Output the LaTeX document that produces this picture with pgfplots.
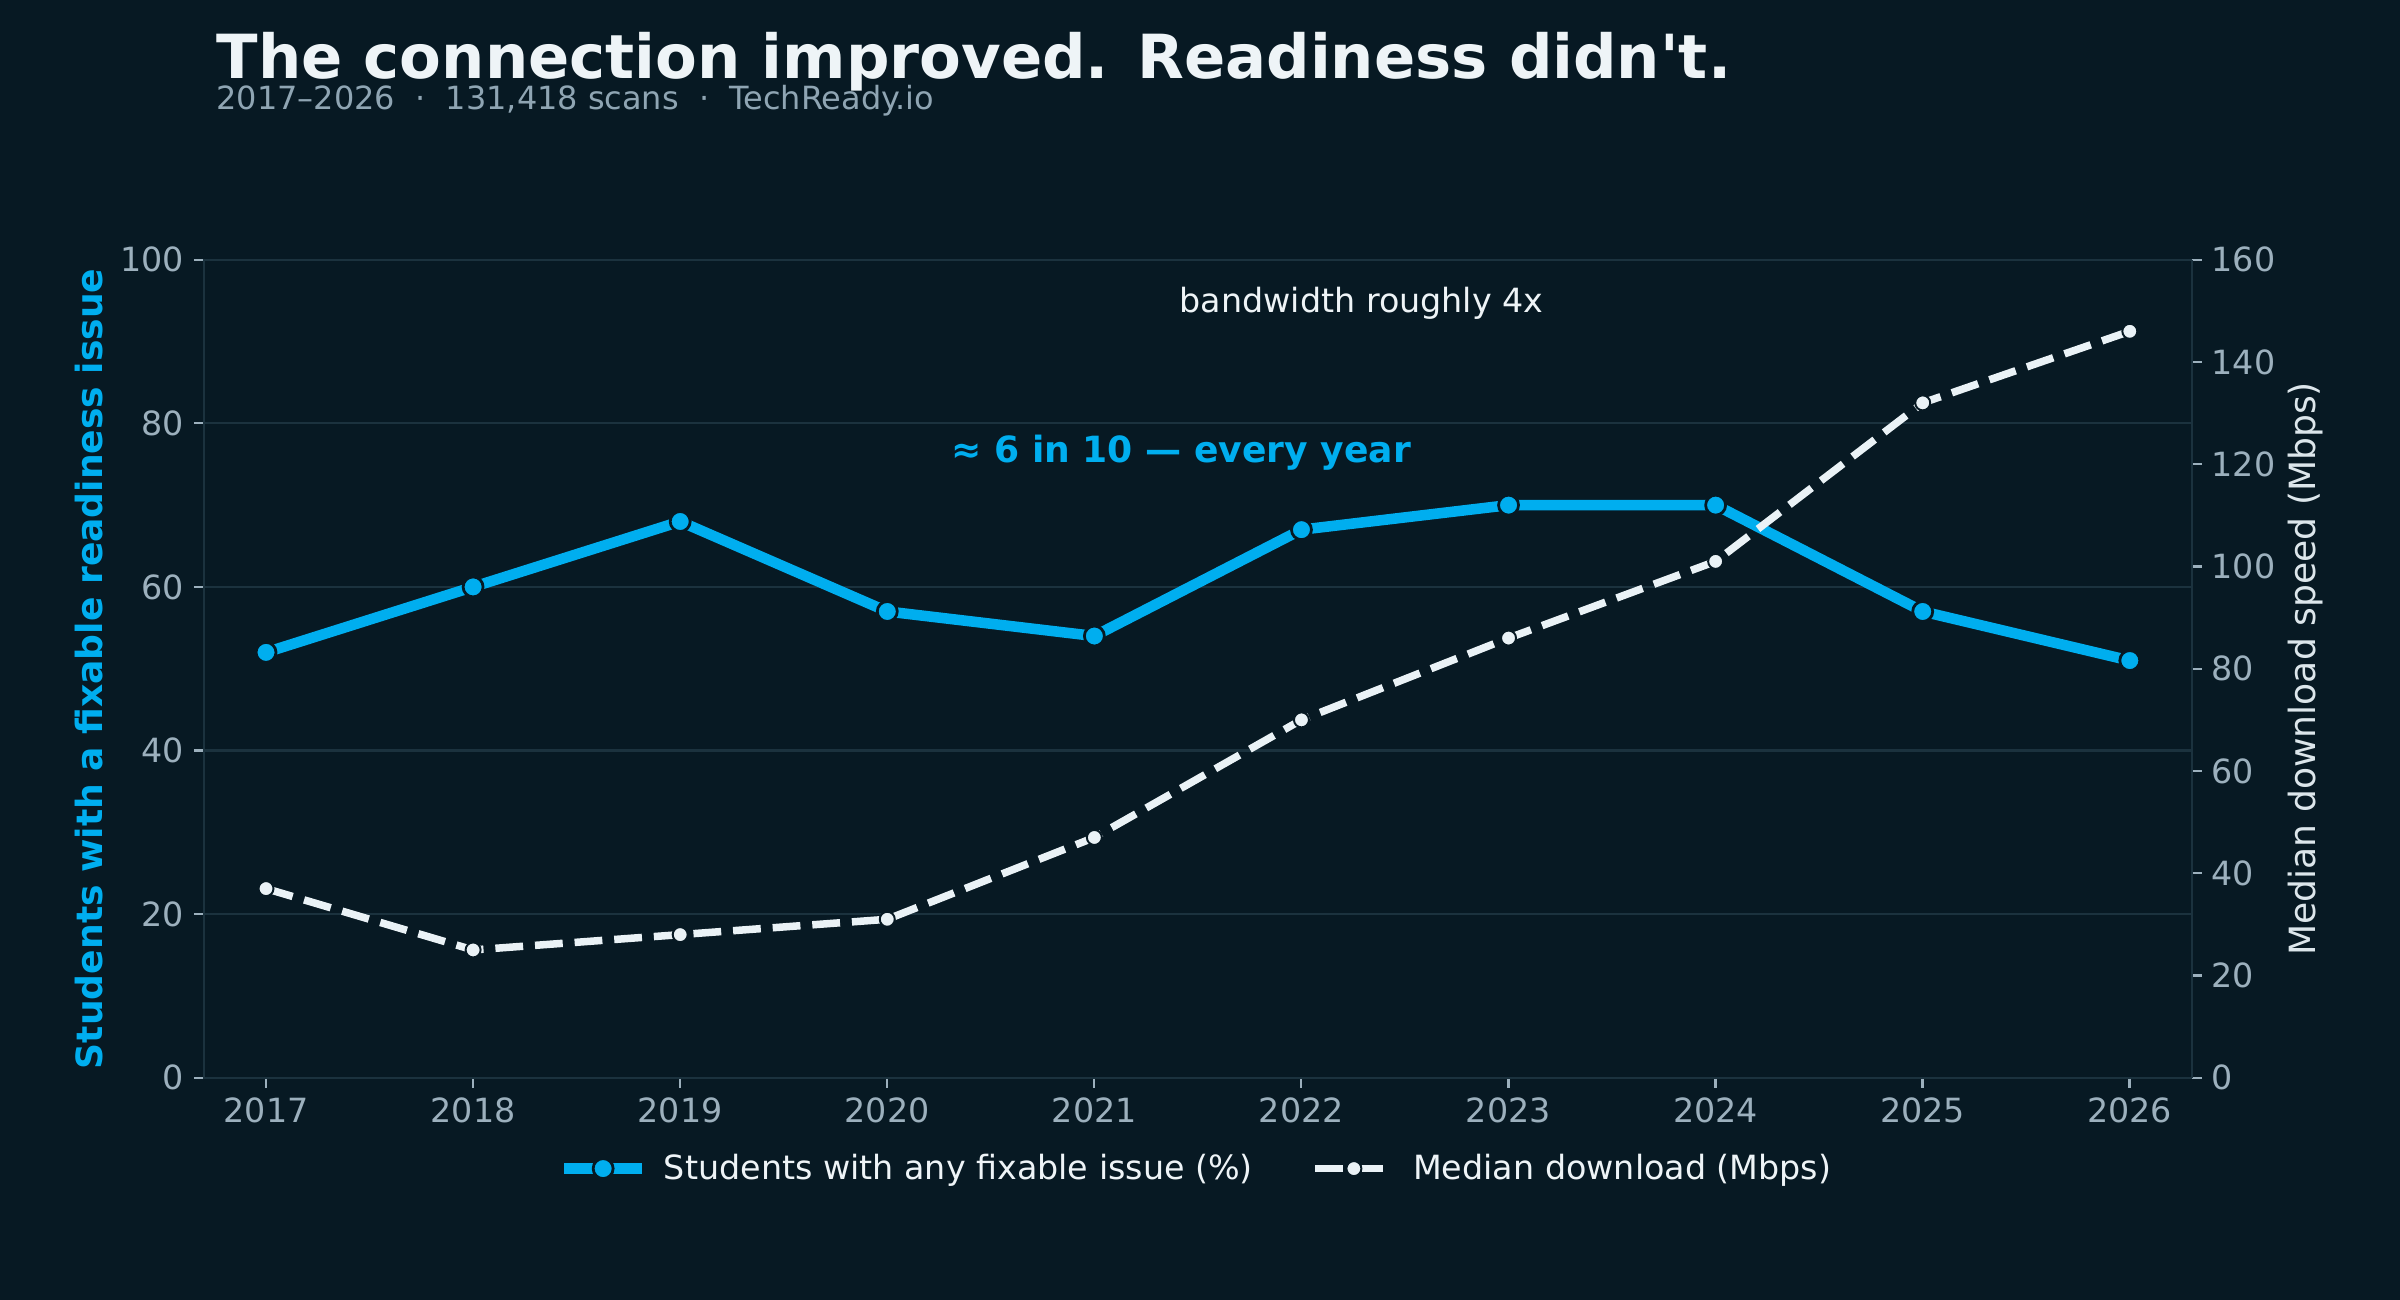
\documentclass[border=0pt]{standalone}
\usepackage{fontspec}
\setmainfont{DejaVu Sans}
\usepackage{pgfplots}
\usepackage{pgfplotstable}
\pgfplotsset{compat=1.18}

\definecolor{bg}{HTML}{071923}
\definecolor{gridc}{HTML}{1B323E}
\definecolor{tickc}{HTML}{9CB0BD}
\definecolor{cyanline}{HTML}{00AEEF}
\definecolor{paleline}{HTML}{EAF2F6}
\definecolor{titlec}{HTML}{EEF4F7}
\definecolor{subc}{HTML}{8FA5B3}
\definecolor{rlabc}{HTML}{DCE6EB}

% year, share of students with a fixable issue (%), median download (Mbps)
\pgfplotstableread{
year pct mbps
2017 52 37
2018 60 25
2019 68 28
2020 57 31
2021 54 47
2022 67 70
2023 70 86
2024 70 101
2025 57 132
2026 51 146
}\scans

\pgfplotsset{
  darkaxis/.style={
    width=715.7pt, height=294.5pt, scale only axis,
    at={(0pt,0pt)}, anchor=south west,
    xmin=2016.7, xmax=2026.3,
    axis line style={gridc, line width=0.8pt},
    tick style={tickc, line width=0.8pt},
    tick align=outside, major tick length=3.6pt,
    ticklabel style={font=\fontsize{12}{14}\selectfont, text=tickc},
    /pgf/number format/assume math mode=true,
    clip=false,
  },
  cyanstyle/.style={cyanline, line width=3.8pt, line join=round,
    mark=*, mark size=3.6pt,
    mark options={solid, fill=cyanline, draw=bg, line width=1pt}},
  palestyle/.style={paleline, line width=2.7pt, dash pattern=on 10pt off 4.3pt,
    mark=*, mark size=2.7pt,
    mark options={solid, fill=paleline, draw=bg, line width=0.7pt}},
}

\begin{document}
\begin{tikzpicture}
\fill[bg] (-73.4pt,-80pt) rectangle (790.6pt,388pt);
\path[use as bounding box] (-73.4pt,-80pt) rectangle (790.6pt,388pt);

\node[anchor=base west, inner sep=0pt, font=\fontsize{21.9}{26}\selectfont\bfseries, text=titlec]
  at (4.4pt,359.6pt) {The connection improved. Readiness didn\textquotesingle t.};
\node[anchor=base west, inner sep=0pt, font=\fontsize{11.5}{13}\selectfont, text=subc]
  at (4.4pt,348.4pt) {2017–2026\ \ ·\ \ 131,418 scans\ \ ·\ \ TechReady.io};

% left axis: share of students
\begin{axis}[darkaxis,
  ymin=0, ymax=100, ytick={0,20,...,100},
  xtick={2017,...,2026},
  xticklabel style={/pgf/number format/1000 sep={}},
  xtick pos=bottom, ytick pos=left,
  ymajorgrids, grid style={gridc, line width=0.8pt},
  every axis y label/.style={at={(axis description cs:-0.0509,0.5)}, rotate=90, anchor=base},
  ylabel={Students with a fixable readiness issue},
  ylabel style={font=\fontsize{13}{15}\selectfont\bfseries, text=cyanline},
]
\addplot[cyanstyle] table[x=year, y=pct] {\scans};
\node[font=\fontsize{13}{15}\selectfont\bfseries, text=cyanline] at (axis cs:2021.42,76.4)
  {≈ 6 in 10 — every year};
\node[font=\fontsize{12}{14}\selectfont, text=titlec] at (axis cs:2022.29,94.7)
  {bandwidth roughly 4x};
\end{axis}

% right axis: median download speed
\begin{axis}[darkaxis,
  ymin=0, ymax=160, ytick={0,20,...,160},
  axis x line=none, axis y line*=right, ytick pos=right,
  every axis y label/.style={at={(axis description cs:1.0619,0.5)}, rotate=90, anchor=base},
  ylabel={Median download speed (Mbps)},
  ylabel style={font=\fontsize{13}{15}\selectfont, text=rlabc},
  legend columns=2,
  legend cell align=left,
  legend style={at={(axis description cs:0.5,-0.111)}, anchor=center,
    draw=none, fill=none, text=titlec, font=\fontsize{12}{14}\selectfont,
    /tikz/every odd column/.append style={column sep=4pt},
    /tikz/every even column/.append style={column sep=19pt}},
  legend image code/.code={
    \draw[#1, mark repeat=2, mark phase=2]
      plot coordinates {(0pt,0pt) (14pt,0pt) (28pt,0pt)};
  },
]
\addlegendimage{cyanstyle}
\addlegendentry{Students with any fixable issue (\%)}
\addplot[palestyle] table[x=year, y=mbps] {\scans};
\addlegendentry{Median download (Mbps)}
\end{axis}
\end{tikzpicture}
\end{document}
